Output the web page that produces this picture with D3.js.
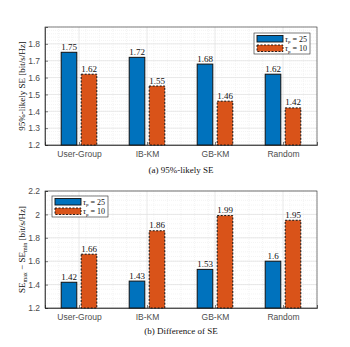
<!DOCTYPE html>
<html>
<head>
<meta charset="utf-8">
<script src="https://cdn.jsdelivr.net/npm/d3@7"></script>
<style>
  body { margin: 0; background: #fff; }
  svg text { fill: #262626; }
</style>
</head>
<body>
<div class="chartWrap"></div>
<script>
var width = 350,
  height = 347,
  blue = '#0072BD',
  orange = '#D95319',
  serif = 'Liberation Serif, Times New Roman, serif',
  sans = 'Liberation Sans, Arial, sans-serif';

var categories = ['User-Group', 'IB-KM', 'GB-KM', 'Random'],
  seriesNames = ['\u03c4p = 25', '\u03c4p = 10'];

// panel (a)
var likelyTau25 = [1.75, 1.72, 1.68, 1.62],
  likelyTau10 = [1.62, 1.55, 1.46, 1.42],
  likelyTicks = [1.2, 1.3, 1.4, 1.5, 1.6, 1.7, 1.8];

// panel (b)
var diffTau25 = [1.42, 1.43, 1.53, 1.6],
  diffTau10 = [1.66, 1.86, 1.99, 1.95],
  diffTicks = [1.2, 1.4, 1.6, 1.8, 2, 2.2];

var svg = d3.select('.chartWrap')
  .append('svg')
  .attr('width', width)
  .attr('height', height);

var panels = [
  {
    top: 27, bottom: 145, domain: [1.2, 1.9], ticks: likelyTicks, minor: 0.02,
    s1: likelyTau25, s2: likelyTau10,
    legend: {x: 254, y: 33},
    caption: '(a) 95%-likely SE', captionY: 173,
    ylabel: 'a'
  },
  {
    top: 191, bottom: 308, domain: [1.2, 2.2], ticks: diffTicks, minor: 0.04,
    s1: diffTau25, s2: diffTau10,
    legend: {x: 52, y: 196},
    caption: '(b) Difference of SE', captionY: 334,
    ylabel: 'b'
  }
];

var left = 45, right = 317;

var x = d3.scaleLinear().domain([0.5, 4.5]).range([left, right]);

panels.forEach(function(p){
  var g = svg.append('g');
  var y = d3.scaleLinear().domain(p.domain).range([p.bottom, p.top]);

  // minor grid
  var minorY = d3.range(p.domain[0], p.domain[1] + 1e-9, p.minor);
  g.selectAll('.minorY')
    .data(minorY)
    .enter()
      .append('line')
      .attr('x1', left).attr('x2', right)
      .attr('y1', function(d){return y(d);}).attr('y2', function(d){return y(d);})
      .style('stroke', '#ececec').style('stroke-width', 0.6)
      .style('stroke-dasharray', '1,1');
  var minorX = d3.range(0.5, 4.5 + 1e-9, 0.2);
  g.selectAll('.minorX')
    .data(minorX)
    .enter()
      .append('line')
      .attr('y1', p.top).attr('y2', p.bottom)
      .attr('x1', function(d){return x(d);}).attr('x2', function(d){return x(d);})
      .style('stroke', '#ececec').style('stroke-width', 0.6)
      .style('stroke-dasharray', '1,1');

  // major grid
  g.selectAll('.majorY')
    .data(p.ticks)
    .enter()
      .append('line')
      .attr('x1', left).attr('x2', right)
      .attr('y1', function(d){return y(d);}).attr('y2', function(d){return y(d);})
      .style('stroke', '#e0e0e0').style('stroke-width', 0.7);
  g.selectAll('.majorX')
    .data([1, 2, 3, 4])
    .enter()
      .append('line')
      .attr('y1', p.top).attr('y2', p.bottom)
      .attr('x1', function(d){return x(d);}).attr('x2', function(d){return x(d);})
      .style('stroke', '#e0e0e0').style('stroke-width', 0.7);

  // box
  g.append('rect')
    .attr('x', left).attr('y', p.top)
    .attr('width', right - left).attr('height', p.bottom - p.top)
    .style('fill', 'none').style('stroke', '#262626').style('stroke-width', 0.6);

  // axes
  var yAxis = d3.axisLeft(y).tickValues(p.ticks).tickSize(-3).tickPadding(5)
    .tickFormat(function(d){return d3.format('~g')(+d.toFixed(2));});
  var ga = g.append('g').attr('transform', 'translate(' + left + ',0)').call(yAxis);
  ga.select('.domain').style('stroke', '#262626').style('stroke-width', 0.7);
  ga.selectAll('.tick line').style('stroke', '#262626').style('stroke-width', 0.6);
  ga.selectAll('text').style('font-family', sans).style('font-size', '8.5px').style('fill', '#4d4d4d');

  var xAxis = d3.axisBottom(x).tickValues([1, 2, 3, 4]).tickSize(-3).tickPadding(6)
    .tickFormat(function(d){return categories[d - 1];});
  var gx = g.append('g').attr('transform', 'translate(0,' + p.bottom + ')').call(xAxis);
  gx.select('.domain').style('stroke', '#262626').style('stroke-width', 0.7);
  gx.selectAll('.tick line').style('stroke', '#262626').style('stroke-width', 0.6);
  gx.selectAll('text').style('font-family', sans).style('font-size', '8.5px').style('fill', '#4d4d4d');

  // bars
  var barW = 15.6, off = 10;
  [p.s1, p.s2].forEach(function(vals, si){
    var dx = si === 0 ? -off : off;
    g.selectAll('.bar' + si)
      .data(vals)
      .enter()
        .append('rect')
        .attr('x', function(d, i){return x(i + 1) + dx - barW / 2;})
        .attr('y', function(d){return y(d);})
        .attr('width', barW)
        .attr('height', function(d){return p.bottom - y(d);})
        .style('fill', si === 0 ? blue : orange)
        .style('stroke', '#111')
        .style('stroke-width', 1)
        .style('stroke-dasharray', si === 0 ? null : '2,1.5');
    g.selectAll('.lab' + si)
      .data(vals)
      .enter()
        .append('text')
        .attr('x', function(d, i){return x(i + 1) + dx;})
        .attr('y', function(d){return y(d) - 2.5;})
        .attr('text-anchor', 'middle')
        .style('font-family', serif)
        .style('font-size', '9px')
        .style('fill', '#111')
        .text(function(d){return d3.format('~g')(d);});
  });

  // legend
  var lg = g.append('g').attr('transform', 'translate(' + p.legend.x + ',' + p.legend.y + ')');
  lg.append('rect')
    .attr('width', 56).attr('height', 21)
    .style('fill', '#fff').style('stroke', '#262626').style('stroke-width', 0.6);
  seriesNames.forEach(function(name, si){
    lg.append('rect')
      .attr('x', 3).attr('y', 2.5 + si * 9.5)
      .attr('width', 26).attr('height', 6.5)
      .style('fill', si === 0 ? blue : orange)
      .style('stroke', '#111').style('stroke-width', 0.9)
      .style('stroke-dasharray', si === 0 ? null : '2,1.5');
    var t = lg.append('text')
      .attr('x', 31).attr('y', 8.5 + si * 9.5)
      .style('font-family', serif).style('font-size', '8px').style('fill', '#111');
    t.append('tspan').style('font-style', 'italic').text('\u03c4');
    t.append('tspan').attr('dy', 1.5).style('font-size', '5px').text('p');
    t.append('tspan').attr('dy', -1.5).text(si === 0 ? ' = 25' : ' = 10');
  });

  // y label
  var yl = g.append('text')
    .attr('transform', 'translate(25,' + ((p.top + p.bottom) / 2) + ') rotate(-90)')
    .attr('text-anchor', 'middle')
    .style('font-family', serif).style('font-size', '9px').style('fill', '#111');
  if (p.ylabel === 'a') {
    yl.text('95%-likely SE [bit/s/Hz]');
  } else {
    yl.append('tspan').text('SE');
    yl.append('tspan').attr('dy', 2).style('font-size', '6px').text('max');
    yl.append('tspan').attr('dy', -2).text(' \u2212 SE');
    yl.append('tspan').attr('dy', 2).style('font-size', '6px').text('min');
    yl.append('tspan').attr('dy', -2).text(' [bit/s/Hz]');
  }

  // caption
  g.append('text')
    .attr('x', 181).attr('y', p.captionY)
    .attr('text-anchor', 'middle')
    .style('font-family', serif).style('font-size', '9px').style('fill', '#111')
    .text(p.caption);
});
</script>
</body>
</html>
